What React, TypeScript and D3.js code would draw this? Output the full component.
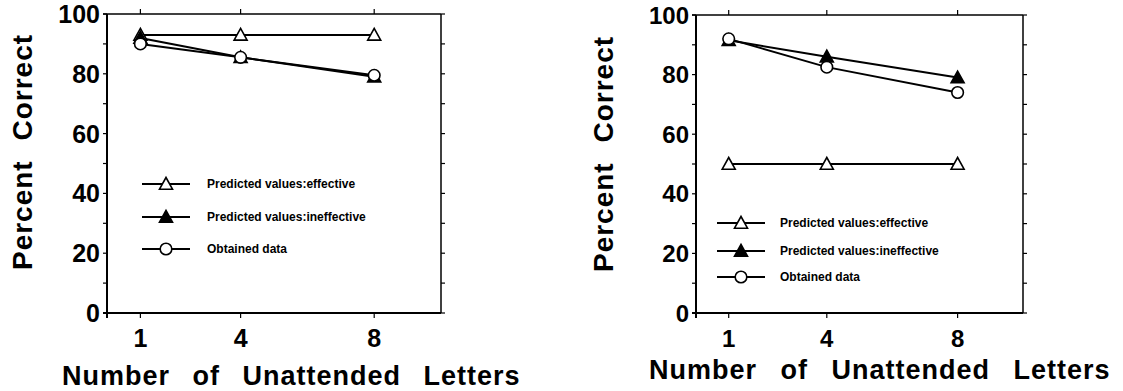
import * as React from "react";
import * as d3 from "d3";

const letters = [1, 4, 8];
const yTicks = [0, 20, 40, 60, 80, 100];

// left panel
const leftEffective = [93, 93, 93];
const leftIneffective = [92, 85.5, 79];
const leftObtained = [90, 85.5, 79.5];

// right panel
const rightEffective = [50, 50, 50];
const rightIneffective = [91.5, 86, 79];
const rightObtained = [92, 82.5, 74];

const legendLabels = [
  "Predicted values:effective",
  "Predicted values:ineffective",
  "Obtained data",
];
const xTitle = "Number of Unattended Letters";
const yTitle = "Percent Correct";

const FONT = "'Liberation Sans', Arial, Helvetica, sans-serif";

type Marker = "tri-open" | "tri-fill" | "circle";

interface PanelProps {
  left: number;
  right: number;
  top: number;
  bottom: number;
  series: { values: number[]; marker: Marker }[];
  legendX: [number, number, number]; // line start, line end, text x
  legendY: number[];
  legendFont: number;
  tickFont: number;
  titleFont: number;
  yTitleFont: number;
  xTitleX: number;
  xTitleY: number;
  xTitleWordSpacing: number;
  yTitleX: number;
  yTitleY: number;
  yTitleWordSpacing: number;
}

function MarkerShape({ type, x, y }: { type: Marker; x: number; y: number }) {
  if (type === "circle") {
    return <circle cx={x} cy={y} r={5.8} fill="#fff" stroke="#000" strokeWidth={1.6} />;
  }
  const s = 6.5;
  const pts = `${x},${y - s} ${x + s},${y + s * 0.8} ${x - s},${y + s * 0.8}`;
  return (
    <polygon
      points={pts}
      fill={type === "tri-fill" ? "#000" : "#fff"}
      stroke="#000"
      strokeWidth={1.6}
      strokeLinejoin="miter"
    />
  );
}

function Panel(p: PanelProps) {
  const x = d3.scaleLinear().domain([0, 10]).range([p.left, p.right]);
  const y = d3.scaleLinear().domain([0, 100]).range([p.bottom, p.top]);
  const line = d3
    .line<number>()
    .x((_, i) => x(letters[i]))
    .y((d) => y(d));
  const minor = d3.range(0, 101, 10);

  return (
    <g fontFamily={FONT} fontWeight="bold">
      {/* frame */}
      <line x1={p.left - 4} x2={p.right} y1={p.top} y2={p.top} stroke="#000" strokeWidth={1.5} />
      <line x1={p.left - 4} x2={p.right} y1={p.bottom} y2={p.bottom} stroke="#000" strokeWidth={2} />
      <line x1={p.left} x2={p.left} y1={p.top} y2={p.bottom + 5} stroke="#000" strokeWidth={2} />
      <line x1={p.right} x2={p.right} y1={p.top} y2={p.bottom} stroke="#000" strokeWidth={1.5} />

      {minor.map((t) => (
        <g key={`yt-${t}`}>
          <line x1={p.left - 4} x2={p.left} y1={y(t)} y2={y(t)} stroke="#000" strokeWidth={1.2} />
          <line x1={p.right} x2={p.right + 4} y1={y(t)} y2={y(t)} stroke="#000" strokeWidth={1.2} />
        </g>
      ))}
      {letters.map((v) => (
        <g key={`xt-${v}`}>
          <line x1={x(v)} x2={x(v)} y1={p.top - 5} y2={p.top} stroke="#000" strokeWidth={1.2} />
          <line x1={x(v)} x2={x(v)} y1={p.bottom} y2={p.bottom + 5} stroke="#000" strokeWidth={1.2} />
          <text x={x(v)} y={p.bottom + 34} textAnchor="middle" fontSize={p.tickFont}>
            {v}
          </text>
        </g>
      ))}
      {yTicks.map((t) => (
        <text
          key={`yl-${t}`}
          x={p.left - 7}
          y={y(t)}
          dy="0.36em"
          textAnchor="end"
          fontSize={p.tickFont}
        >
          {t}
        </text>
      ))}

      {/* series */}
      {p.series.map((s, i) => (
        <path key={`l-${i}`} d={line(s.values) ?? ""} fill="none" stroke="#000" strokeWidth={2} />
      ))}
      {p.series.map((s, i) =>
        s.values.map((v, j) => (
          <MarkerShape key={`m-${i}-${j}`} type={s.marker} x={x(letters[j])} y={y(v)} />
        )),
      )}

      {/* legend */}
      {p.series.map((s, i) => (
        <g key={`lg-${i}`}>
          <line
            x1={p.legendX[0]}
            x2={p.legendX[1]}
            y1={p.legendY[i]}
            y2={p.legendY[i]}
            stroke="#000"
            strokeWidth={2}
          />
          <MarkerShape
            type={s.marker}
            x={(p.legendX[0] + p.legendX[1]) / 2}
            y={p.legendY[i]}
          />
          <text x={p.legendX[2]} y={p.legendY[i]} dy="0.35em" fontSize={p.legendFont}>
            {legendLabels[i]}
          </text>
        </g>
      ))}

      {/* titles */}
      <text
        x={p.xTitleX}
        y={p.xTitleY}
        fontSize={p.titleFont}
        wordSpacing={p.xTitleWordSpacing}
        letterSpacing={1}
      >
        {xTitle}
      </text>
      <text
        transform={`translate(${p.yTitleX},${p.yTitleY}) rotate(-90)`}
        textAnchor="middle"
        fontSize={p.yTitleFont}
        wordSpacing={p.yTitleWordSpacing}
        letterSpacing={1}
      >
        {yTitle}
      </text>
    </g>
  );
}

export default function App() {
  return (
    <svg
      width={1123}
      height={391}
      style={{ position: "absolute", left: 0, top: 0, background: "#fff" }}
    >
      <rect width={1123} height={391} fill="#fff" />
      <Panel
        left={107}
        right={441}
        top={14}
        bottom={313}
        series={[
          { values: leftEffective, marker: "tri-open" },
          { values: leftIneffective, marker: "tri-fill" },
          { values: leftObtained, marker: "circle" },
        ]}
        legendX={[142, 190, 207]}
        legendY={[184, 217, 249]}
        legendFont={12}
        tickFont={25}
        titleFont={27}
        yTitleFont={28}
        xTitleX={62}
        xTitleY={385}
        xTitleWordSpacing={14}
        yTitleX={32}
        yTitleY={152}
        yTitleWordSpacing={11}
      />
      <Panel
        left={696}
        right={1023}
        top={15}
        bottom={313}
        series={[
          { values: rightEffective, marker: "tri-open" },
          { values: rightIneffective, marker: "tri-fill" },
          { values: rightObtained, marker: "circle" },
        ]}
        legendX={[717, 765, 780]}
        legendY={[223, 251, 277]}
        legendFont={12}
        tickFont={24}
        titleFont={27}
        yTitleFont={28}
        xTitleX={649}
        xTitleY={379}
        xTitleWordSpacing={15}
        yTitleX={613}
        yTitleY={154}
        yTitleWordSpacing={11}
      />
    </svg>
  );
}
